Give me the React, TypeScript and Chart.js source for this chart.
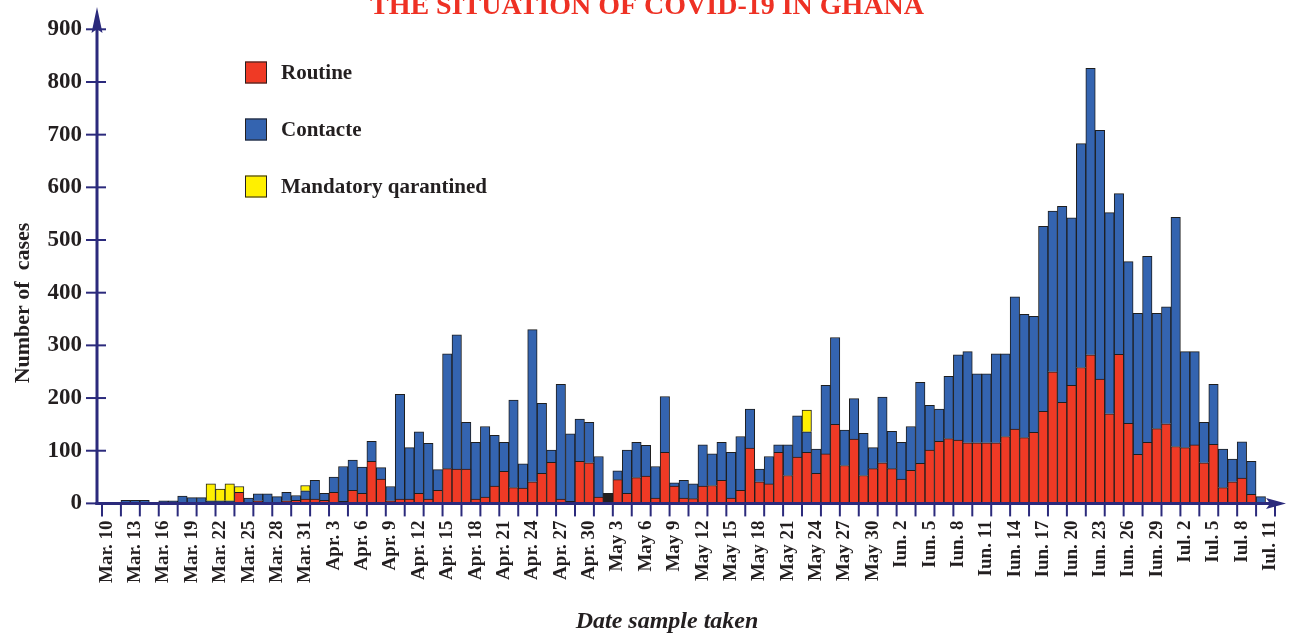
import React, { useEffect, useRef } from 'react';
import { Chart, registerables } from 'chart.js';

Chart.register(...registerables);

// ---- categories (one per day, Mar. 10 – Iul. 11) ----
const monthSpans: [string, number, number][] = [
  ['Mar.', 10, 31],
  ['Apr.', 1, 30],
  ['May', 1, 31],
  ['Iun.', 1, 30],
  ['Iul.', 1, 11],
];
const categories: string[] = [];
for (const [m, a, b] of monthSpans) for (let d = a; d <= b; d++) categories.push(`${m} ${d}`);

// ---- series (cases per day) ----
const routine = [
  0, 0,
  0, 0, 0, 0, 0, 0, 0, 0, 0, 0,
  0, 0, 21, 0, 5, 2, 0, 5, 6, 8,
  8, 6, 21, 4, 25, 19, 80, 46, 5, 8,
  8, 19, 8, 25, 66, 65, 65, 8, 12, 33,
  61, 30, 29, 41, 57, 78, 8, 0, 80, 77,
  12, 0, 45, 19, 49, 52, 10, 97, 33, 10,
  9, 33, 34, 44, 10, 25, 105, 41, 37, 97,
  53, 88, 97, 57, 94, 150, 72, 122, 53, 66,
  77, 66, 46, 63, 76, 101, 118, 123, 120, 115,
  115, 115, 115, 127, 141, 125, 135, 175, 250, 192,
  224, 258, 282, 236, 170, 283, 152, 93, 116, 142,
  151, 108, 106, 111, 77, 112, 30, 41, 48, 17,
  0, 0,
];
const contact = [
  0, 0,
  6, 6, 6, 0, 5, 5, 14, 11, 11, 5,
  5, 5, 0, 10, 13, 16, 13, 16, 9, 16,
  36, 13, 29, 66, 57, 50, 38, 22, 27, 199,
  98, 117, 106, 39, 218, 255, 89, 108, 134, 96,
  55, 166, 46, 289, 133, 23, 218, 128, 80, 77,
  77, 0, 17, 82, 67, 58, 60, 106, 6, 34,
  28, 78, 60, 72, 87, 102, 74, 24, 52, 14,
  58, 78, 39, 46, 130, 165, 67, 77, 80, 40,
  125, 71, 70, 83, 154, 85, 61, 118, 162, 173,
  131, 131, 169, 157, 251, 234, 220, 351, 305, 372,
  318, 425, 544, 472, 382, 305, 307, 268, 353, 219,
  222, 435, 182, 177, 77, 114, 73, 43, 69, 63,
  13, 0,
];
const quarantined = [
  0, 0,
  0, 0, 0, 0, 0, 0, 0, 0, 0, 32,
  22, 32, 11, 0, 0, 0, 0, 0, 0, 10,
  0, 0, 0, 0, 0, 0, 0, 0, 0, 0,
  0, 0, 0, 0, 0, 0, 0, 0, 0, 0,
  0, 0, 0, 0, 0, 0, 0, 0, 0, 0,
  0, 0, 0, 0, 0, 0, 0, 0, 0, 0,
  0, 0, 0, 0, 0, 0, 0, 0, 0, 0,
  0, 0, 41, 0, 0, 0, 0, 0, 0, 0,
  0, 0, 0, 0, 0, 0, 0, 0, 0, 0,
  0, 0, 0, 0, 0, 0, 0, 0, 0, 0,
  0, 0, 0, 0, 0, 0, 0, 0, 0, 0,
  0, 0, 0, 0, 0, 0, 0, 0, 0, 0,
  0, 0,
];
const unspecified = [
  0, 0,
  0, 0, 0, 0, 0, 0, 0, 0, 0, 0,
  0, 0, 0, 0, 0, 0, 0, 0, 0, 0,
  0, 0, 0, 0, 0, 0, 0, 0, 0, 0,
  0, 0, 0, 0, 0, 0, 0, 0, 0, 0,
  0, 0, 0, 0, 0, 0, 0, 4, 0, 0,
  0, 19, 0, 0, 0, 0, 0, 0, 0, 0,
  0, 0, 0, 0, 0, 0, 0, 0, 0, 0,
  0, 0, 0, 0, 0, 0, 0, 0, 0, 0,
  0, 0, 0, 0, 0, 0, 0, 0, 0, 0,
  0, 0, 0, 0, 0, 0, 0, 0, 0, 0,
  0, 0, 0, 0, 0, 0, 0, 0, 0, 0,
  0, 0, 0, 0, 0, 0, 0, 0, 0, 0,
  0, 0,
];

const yTicks = [0, 100, 200, 300, 400, 500, 600, 700, 800, 900];

const TITLE = 'THE SITUATION OF COVID-19 IN GHANA';
const Y_TITLE = 'Number of  cases';
const X_TITLE = 'Date sample taken';
const legendItems: [string, string][] = [
  ['Routine', '#EF3A25'],
  ['Contacte', '#3464B0'],
  ['Mandatory qarantined', '#FFF000'],
];

const SERIF = "'Liberation Serif', 'Times New Roman', serif";
const NAVY = '#2B2A7C';
const INK = '#231F20';

const decor = {
  id: 'decor',
  afterDraw(chart: any) {
    const { ctx, chartArea, scales } = chart;
    const xs = scales.x;
    const ys = scales.y;
    const y0 = ys.getPixelForValue(0);
    const axisX = 97;
    ctx.save();

    // y-axis ticks
    ctx.strokeStyle = NAVY;
    ctx.lineWidth = 2;
    for (const v of yTicks) {
      const y = ys.getPixelForValue(v);
      ctx.beginPath();
      ctx.moveTo(86, y);
      ctx.lineTo(106, y);
      ctx.stroke();
    }
    // x-axis ticks every 2 days (at bar boundaries)
    const n = categories.length;
    const w = (chartArea.right - chartArea.left) / n;
    for (let i = 0; i <= n; i += 2) {
      const x = xs.getPixelForValue(Math.min(i, n - 1)) + (i === n ? w / 2 : -w / 2);
      if (x < axisX + 2) continue;
      ctx.beginPath();
      ctx.moveTo(x, y0);
      ctx.lineTo(x, y0 + 13);
      ctx.stroke();
    }

    // axes lines
    ctx.lineWidth = 3;
    ctx.beginPath();
    ctx.moveTo(axisX, y0 + 1.5);
    ctx.lineTo(axisX, 26);
    ctx.stroke();
    ctx.beginPath();
    ctx.moveTo(axisX - 1.5, y0);
    ctx.lineTo(1274, y0);
    ctx.stroke();
    // arrows
    ctx.fillStyle = NAVY;
    ctx.beginPath();
    ctx.moveTo(axisX, 7);
    ctx.lineTo(axisX - 5.5, 33);
    ctx.lineTo(axisX, 29);
    ctx.lineTo(axisX + 5.5, 33);
    ctx.closePath();
    ctx.fill();
    ctx.beginPath();
    ctx.moveTo(1286, y0);
    ctx.lineTo(1266, y0 - 5.5);
    ctx.lineTo(1270, y0);
    ctx.lineTo(1266, y0 + 5.5);
    ctx.closePath();
    ctx.fill();

    // title
    ctx.fillStyle = '#EE3124';
    ctx.font = `bold 28px ${SERIF}`;
    ctx.textAlign = 'center';
    ctx.textBaseline = 'alphabetic';
    ctx.fillText(TITLE, 647, 14);

    // y title
    ctx.fillStyle = INK;
    ctx.font = `bold 22px ${SERIF}`;
    ctx.save();
    ctx.translate(23, 303);
    ctx.rotate(-Math.PI / 2);
    ctx.textBaseline = 'middle';
    ctx.fillText(Y_TITLE, 0, 0);
    ctx.restore();

    // x title
    ctx.font = `italic bold 24px ${SERIF}`;
    ctx.textAlign = 'center';
    ctx.textBaseline = 'middle';
    ctx.fillText(X_TITLE, 667, 622);

    // legend
    ctx.font = `bold 21px ${SERIF}`;
    ctx.textAlign = 'left';
    legendItems.forEach(([label, color], i) => {
      const cy = 72.5 + i * 57;
      ctx.fillStyle = color;
      ctx.fillRect(245, cy - 11, 22, 22);
      ctx.strokeStyle = INK;
      ctx.lineWidth = 1;
      ctx.strokeRect(245.5, cy - 10.5, 21, 21);
      ctx.fillStyle = INK;
      ctx.fillText(label, 281, cy + 1);
    });

    ctx.restore();
  },
};

export default function App() {
  const ref = useRef<HTMLCanvasElement>(null);
  useEffect(() => {
    document.body.style.margin = '0';
    const border = '#1E1E1E';
    const common = { borderColor: border, borderWidth: 1, barPercentage: 1, categoryPercentage: 1 };
    const chart = new Chart(ref.current as HTMLCanvasElement, {
      type: 'bar',
      data: {
        labels: categories,
        datasets: [
          { label: 'Other', data: unspecified, backgroundColor: '#231F20', ...common },
          { label: legendItems[0][0], data: routine, backgroundColor: legendItems[0][1], ...common },
          { label: legendItems[1][0], data: contact, backgroundColor: legendItems[1][1], ...common },
          { label: legendItems[2][0], data: quarantined, backgroundColor: legendItems[2][1], ...common },
        ],
      },
      options: {
        animation: false,
        responsive: false,
        devicePixelRatio: 1,
        layout: { padding: { top: 29.3, right: 20, left: 0, bottom: 0 } },
        plugins: {
          legend: { display: false },
          tooltip: { enabled: false },
          title: { display: false },
        },
        scales: {
          x: {
            stacked: true,
            grid: { display: false, drawTicks: false },
            border: { display: false },
            ticks: {
              autoSkip: false,
              maxRotation: 90,
              minRotation: 90,
              padding: 17,
              color: INK,
              font: { family: SERIF, weight: 'bold', size: 19 },
              callback: function (this: any, value: any, index: number) {
                return index % 3 === 0 ? categories[index] : '';
              },
            },
            afterFit: (s: any) => {
              s.height = 637 - 503.4;
              s.paddingLeft = 0;
              s.paddingRight = 0;
            },
          },
          y: {
            stacked: true,
            min: 0,
            max: 900,
            grid: { display: false, drawTicks: false },
            border: { display: false },
            ticks: {
              stepSize: 100,
              padding: 20,
              color: INK,
              font: { family: SERIF, weight: 'bold', size: 23 },
            },
            afterFit: (s: any) => {
              s.width = 102;
              s.paddingTop = 0;
              s.paddingBottom = 0;
            },
          },
        },
      },
      plugins: [decor],
    } as any);
    return () => chart.destroy();
  }, []);
  return (
    <canvas
      ref={ref}
      width={1295}
      height={637}
      style={{ display: 'block', width: 1295, height: 637 }}
    />
  );
}
